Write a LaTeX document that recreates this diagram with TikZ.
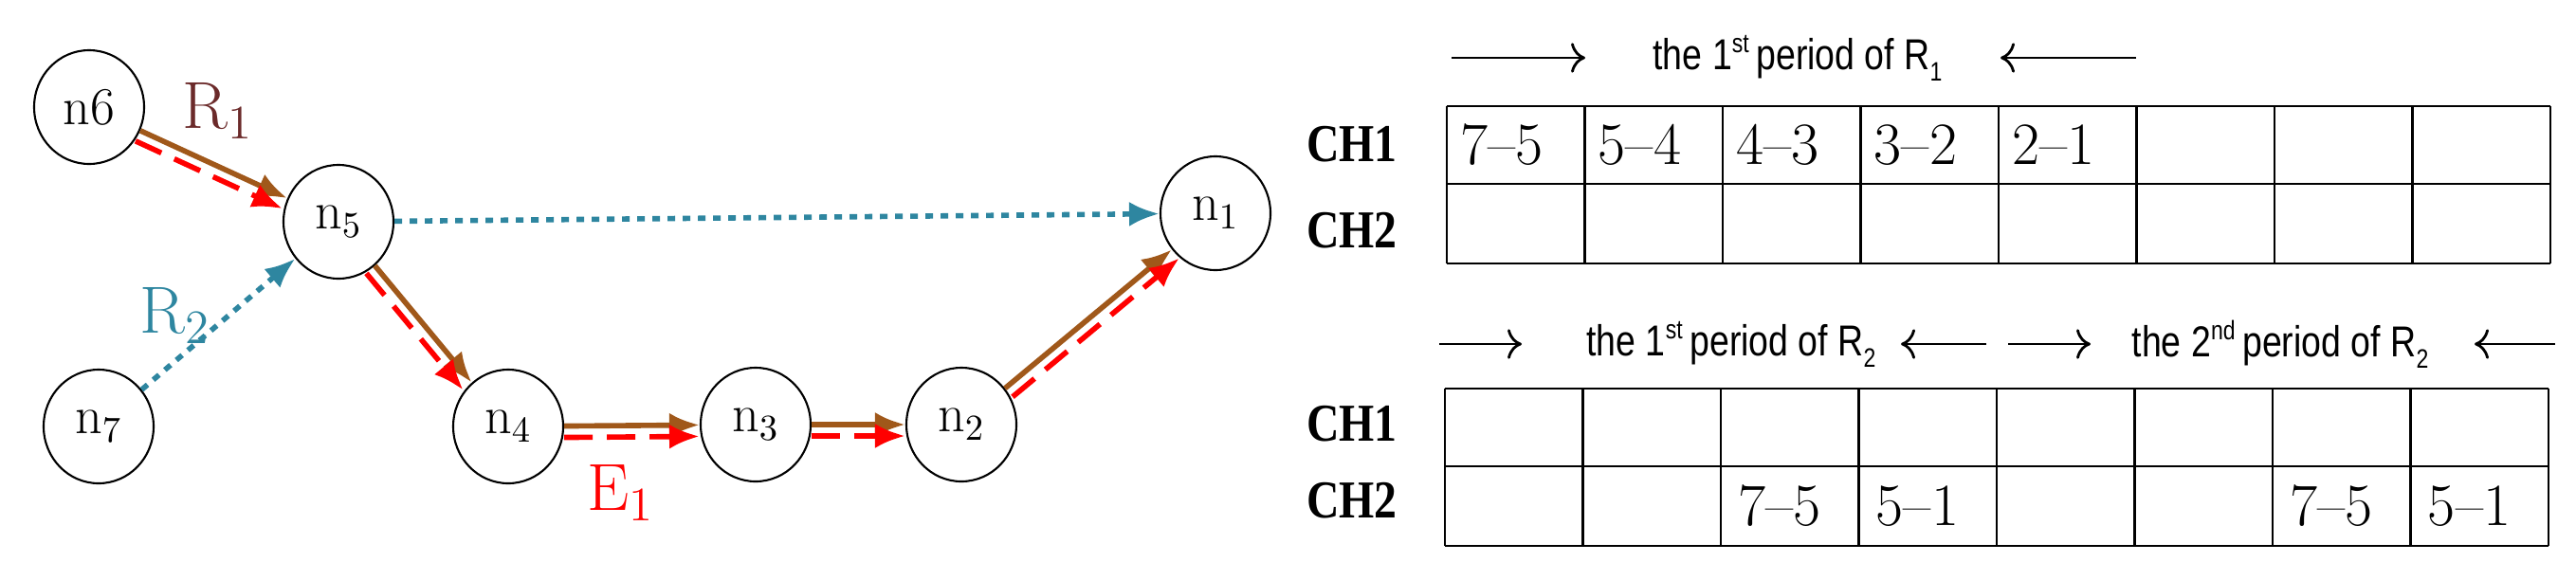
\documentclass[tikz,border=0pt]{standalone}
\usepackage{fontspec}
\newfontfamily\sansf[FakeStretch=0.82]{Liberation Sans}
\newfontfamily\chf[FakeStretch=0.85]{Liberation Serif}
\usetikzlibrary{arrows.meta,shapes.geometric}
\definecolor{brn}{HTML}{A0581A}
\definecolor{teal2}{HTML}{2E86A0}
\definecolor{rdark}{HTML}{6B2A2A}
\newcommand{\sps}[1]{\raisebox{0.75ex}{\fontsize{8}{9}\selectfont #1}}
\newcommand{\sbs}[1]{\raisebox{-0.5ex}{\fontsize{8}{9}\selectfont #1}}
\begin{document}
\begin{tikzpicture}[
  nd/.style={ellipse,draw,line width=0.6pt,minimum width=1.16cm,minimum height=1.2cm,inner sep=0pt,font=\fontsize{16}{18}\selectfont},
  br/.style={draw=brn,line width=1.6pt,-{Latex[length=0.32cm,width=0.26cm]}},
  rd/.style={draw=red,line width=1.6pt,dash pattern=on 0.3cm off 0.15cm,-{Latex[length=0.32cm,width=0.26cm]}},
  tl/.style={draw=teal2,line width=1.6pt,dash pattern=on 0.08cm off 0.08cm,-{Latex[length=0.32cm,width=0.26cm]}},
  cell/.style={anchor=west,font=\fontsize{18}{20}\selectfont},
  ch/.style={font=\chf\bfseries\fontsize{16}{20}\selectfont},
  hd/.style={font=\sansf\fontsize{13}{15}\selectfont},
  grid/.style={line width=0.8pt},
  harr/.style={line width=0.8pt,-{To[length=0.15cm]}}
]
\useasboundingbox (0,0) rectangle (27.17,6.11);
\node[nd] (n6) at (0.94,4.98) {n6};
\node[nd] (n5) at (3.57,3.77) {$\mathrm{n}_5$};
\node[nd] (n7) at (1.04,1.61) {$\mathrm{n}_7$};
\node[nd] (n4) at (5.36,1.61) {$\mathrm{n}_4$};
\node[nd] (n3) at (7.97,1.63) {$\mathrm{n}_3$};
\node[nd] (n2) at (10.14,1.63) {$\mathrm{n}_2$};
\node[nd] (n1) at (12.82,3.86) {$\mathrm{n}_1$};
\draw[br] (n6) -- (n5);
\draw[br] (n5) -- (n4);
\draw[br] (n4) -- (n3);
\draw[br] (n3) -- (n2);
\draw[br] (n2) -- (n1);
\draw[rd,transform canvas={shift={(-0.05,-0.11)}}] (n6) -- (n5);
\draw[rd,transform canvas={shift={(-0.09,-0.08)}}] (n5) -- (n4);
\draw[rd,transform canvas={shift={(0,-0.12)}}] (n4) -- (n3);
\draw[rd,transform canvas={shift={(0,-0.12)}}] (n3) -- (n2);
\draw[rd,transform canvas={shift={(0.08,-0.09)}}] (n2) -- (n1);
\draw[tl] (n7) -- (n5);
\draw[tl] (n5) -- (n1);
\node[text=rdark,font=\fontsize{20}{22}\selectfont] (r1) at (2.3,4.94) {$\mathrm{R}_1$};
\node[text=teal2,font=\fontsize{20}{22}\selectfont] (r2) at (1.85,2.78) {$\mathrm{R}_2$};
\node[text=red,font=\fontsize{20}{22}\selectfont] (e1) at (6.55,0.91) {$\mathrm{E}_1$};
% table 1
\foreach \i in {0,...,8} \draw[grid] (15.26+1.455*\i,4.99) -- (15.26+1.455*\i,3.33);
\foreach \y in {4.99,4.17,3.33} \draw[grid] (15.26,\y) -- (26.90,\y);
\foreach \i/\t in {0/7--5,1/5--4,2/4--3,3/3--2,4/2--1}
  \node[cell] (a\i) at (15.26+1.455*\i+0.02,4.58) {\t};
% table 2
\foreach \i in {0,...,8} \draw[grid] (15.24+1.455*\i,2.01) -- (15.24+1.455*\i,0.35);
\foreach \y in {2.01,1.19,0.35} \draw[grid] (15.24,\y) -- (26.88,\y);
\foreach \i/\t in {2/7--5,3/5--1,6/7--5,7/5--1}
  \node[cell] (b\i) at (15.24+1.455*\i+0.06,0.77) {\t};
\node[ch] (c1) at (14.26,4.59) {CH1};
\node[ch] (c2) at (14.26,3.68) {CH2};
\node[ch] (c3) at (14.26,1.64) {CH1};
\node[ch] (c4) at (14.26,0.83) {CH2};
% headers
\node[hd] (h1) at (18.96,5.50) {the 1\sps{st}\,period of R\sbs{1}};
\coordinate (p1) at (15.31,5.50); \coordinate (p2) at (16.72,5.50);
\coordinate (p3) at (22.53,5.50); \coordinate (p4) at (21.10,5.50);
\draw[harr] (p1) -- (p2); \draw[harr] (p3) -- (p4);
\node[hd] (h2) at (18.26,2.48) {the 1\sps{st}\,period of R\sbs{2}};
\node[hd] (h3) at (24.05,2.48) {the 2\sps{nd}\,period of R\sbs{2}};
\coordinate (q1) at (15.18,2.48); \coordinate (q2) at (16.05,2.48);
\coordinate (q3) at (20.95,2.48); \coordinate (q4) at (20.05,2.48);
\coordinate (q5) at (21.18,2.48); \coordinate (q6) at (22.05,2.48);
\coordinate (q7) at (26.95,2.48); \coordinate (q8) at (26.10,2.48);
\draw[harr] (q1) -- (q2); \draw[harr] (q3) -- (q4);
\draw[harr] (q5) -- (q6); \draw[harr] (q7) -- (q8);
\end{tikzpicture}
\end{document}
